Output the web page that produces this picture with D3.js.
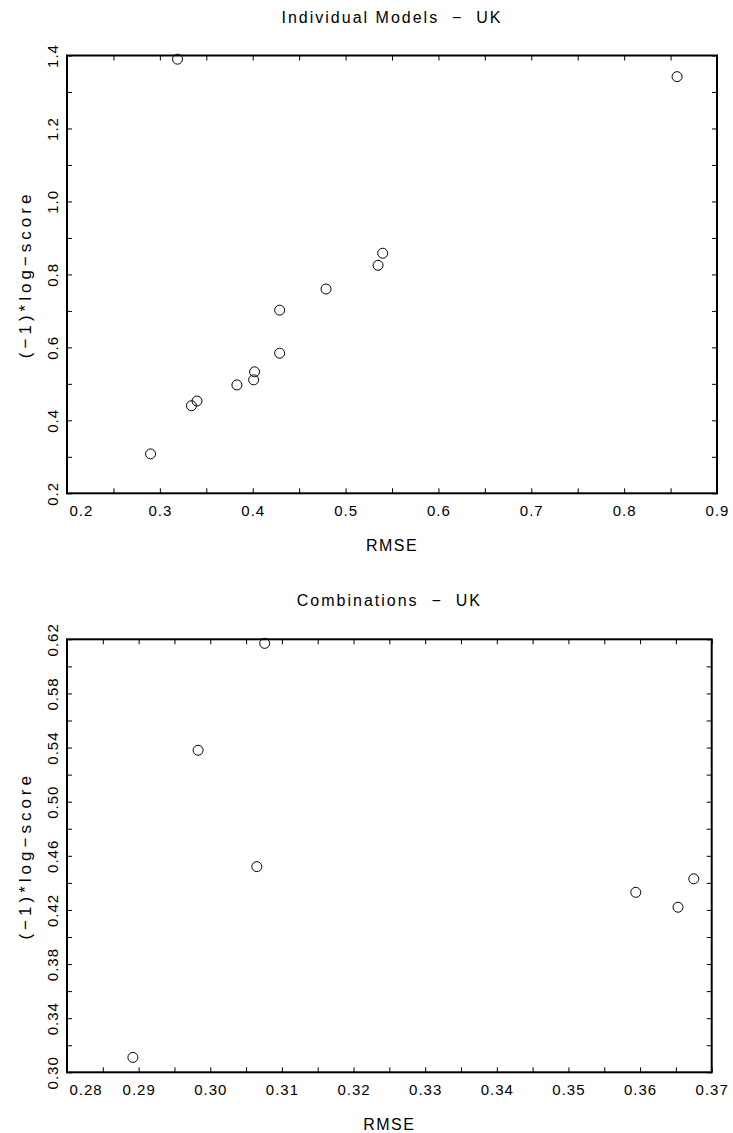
<!DOCTYPE html>
<html>
<head>
<meta charset="utf-8">
<script src="https://cdn.jsdelivr.net/npm/d3@7"></script>
<style>
  body { margin: 0; background: #fff; }
  svg { display: block; }
  text { font-family: "Liberation Sans", Arial, sans-serif; fill: #000; }
</style>
</head>
<body>
<svg id="chart" width="733" height="1133"></svg>
<script>
// individual models
const indivRmse = [0.319, 0.857, 0.540, 0.535, 0.479, 0.429, 0.429, 0.402, 0.401, 0.383, 0.340, 0.334, 0.290];
const indivLogScore = [1.390, 1.342, 0.858, 0.825, 0.760, 0.702, 0.584, 0.533, 0.511, 0.497, 0.453, 0.440, 0.308];

// combinations
const combRmse = [0.3076, 0.2983, 0.3065, 0.3594, 0.3675, 0.3653, 0.2892];
const combLogScore = [0.617, 0.538, 0.452, 0.433, 0.443, 0.422, 0.311];

const indivXTicks = [0.2, 0.3, 0.4, 0.5, 0.6, 0.7, 0.8, 0.9];
const indivYTicks = [0.2, 0.4, 0.6, 0.8, 1.0, 1.2, 1.4];
const combXTicks = [0.28, 0.29, 0.30, 0.31, 0.32, 0.33, 0.34, 0.35, 0.36, 0.37];
const combYTicks = [0.30, 0.34, 0.38, 0.42, 0.46, 0.50, 0.54, 0.58, 0.62];

const svg = d3.select("#chart");

// major ticks plus one minor tick half way between each pair
function minorTicks(major) {
  const out = [];
  for (let i = 0; i < major.length; i++) {
    out.push(major[i]);
    if (i < major.length - 1) out.push((major[i] + major[i + 1]) / 2);
  }
  return out;
}

function panel(opts) {
  const {left, right, top, bottom, title, xs, ys, xTicks, yTicks, xFmt, yFmt} = opts;
  const g = svg.append("g");

  const x = d3.scaleLinear().domain([xTicks[0], xTicks[xTicks.length - 1]]).range([left, right]);
  const y = d3.scaleLinear().domain([yTicks[0], yTicks[yTicks.length - 1]]).range([bottom, top]);

  const xAll = minorTicks(xTicks), yAll = minorTicks(yTicks);
  const isMajor = (arr) => (v) => arr.some(t => Math.abs(t - v) < 1e-9);
  const xMaj = isMajor(xTicks), yMaj = isMajor(yTicks);

  const xb = g.append("g").attr("transform", `translate(0,${bottom})`)
    .call(d3.axisBottom(x).tickValues(xAll).tickSize(-5).tickPadding(12)
      .tickFormat(d => xMaj(d) ? d3.format(xFmt)(d) : ""));
  g.append("g").attr("transform", `translate(0,${top})`)
    .call(d3.axisTop(x).tickValues(xAll).tickSize(-5).tickFormat(""));
  const yl = g.append("g").attr("transform", `translate(${left},0)`)
    .call(d3.axisLeft(y).tickValues(yAll).tickSize(-5)
      .tickFormat(d => yMaj(d) ? d3.format(yFmt)(d) : ""));
  g.append("g").attr("transform", `translate(${right},0)`)
    .call(d3.axisRight(y).tickValues(yAll).tickSize(-5).tickFormat(""));

  g.selectAll(".domain").remove();
  g.selectAll(".tick line").attr("stroke", "#000").attr("stroke-width", 1);
  g.selectAll(".tick text").attr("font-size", 15).attr("letter-spacing", 1)
    .attr("font-family", "Liberation Sans, Arial, sans-serif");

  // first x label sits to the right of the corner
  xb.selectAll(".tick text").filter((d, i) => i === 0)
    .attr("text-anchor", "start").attr("x", 2);

  yl.selectAll(".tick text")
    .attr("text-anchor", "middle").attr("x", null).attr("dy", null)
    .attr("transform", "translate(-9,0) rotate(-90)");

  g.append("rect")
    .attr("x", left).attr("y", top)
    .attr("width", right - left).attr("height", bottom - top)
    .attr("fill", "none").attr("stroke", "#000").attr("stroke-width", 2);

  g.append("g").selectAll("circle")
    .data(xs.map((v, i) => [v, ys[i]]))
    .join("circle")
      .attr("cx", d => x(d[0]))
      .attr("cy", d => y(d[1]))
      .attr("r", 5)
      .attr("fill", "none")
      .attr("stroke", "#000")
      .attr("stroke-width", 1);

  const cx = (left + right) / 2;
  g.append("text")
    .attr("x", cx).attr("y", top - 33)
    .attr("text-anchor", "middle").attr("font-size", 16).attr("letter-spacing", 2)
    .attr("xml:space", "preserve")
    .text(title);

  g.append("text")
    .attr("x", cx).attr("y", bottom + 58)
    .attr("text-anchor", "middle").attr("font-size", 16).attr("letter-spacing", 1.5)
    .text("RMSE");

  g.append("text")
    .attr("transform", `translate(31,${(top + bottom) / 2}) rotate(-90)`)
    .attr("text-anchor", "middle").attr("font-size", 17).attr("letter-spacing", 4)
    .text("(\u22121)*log\u2212score");
}

panel({
  left: 67, right: 717, top: 55.5, bottom: 493.3,
  title: "Individual Models  \u2212  UK",
  xs: indivRmse, ys: indivLogScore,
  xTicks: indivXTicks, yTicks: indivYTicks,
  xFmt: ".1f", yFmt: ".1f"
});

panel({
  left: 67, right: 711.7, top: 639.3, bottom: 1072.3,
  title: "Combinations  \u2212  UK",
  xs: combRmse, ys: combLogScore,
  xTicks: combXTicks, yTicks: combYTicks,
  xFmt: ".2f", yFmt: ".2f"
});
</script>
</body>
</html>
